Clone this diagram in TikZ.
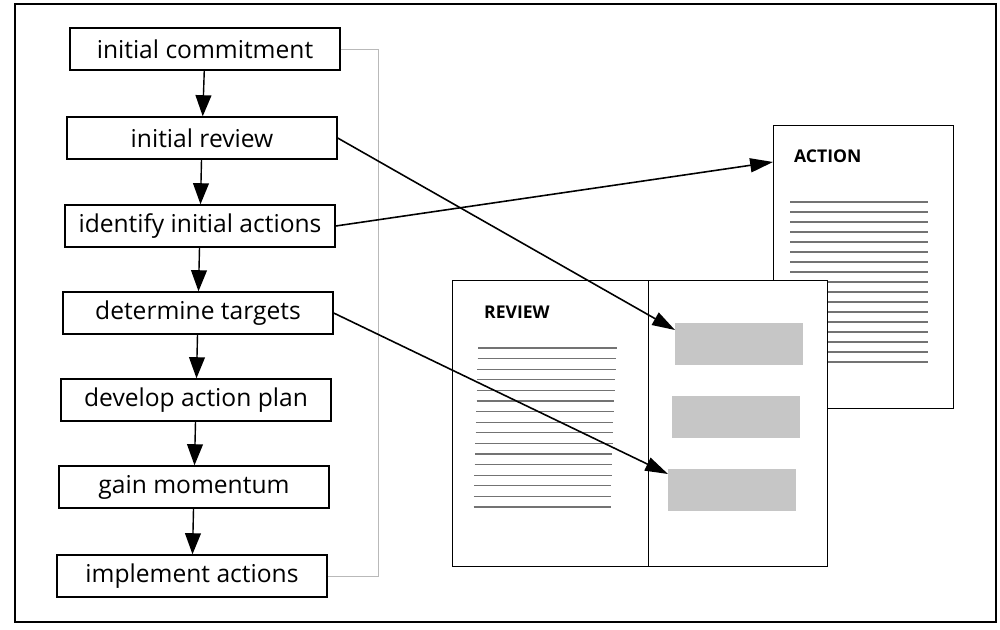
\documentclass[tikz,border=0pt]{standalone}
\usepackage{fontspec}
\usepackage{xcolor}
\setmainfont{Open Sans}
\usetikzlibrary{arrows.meta}

\begin{document}
\begin{tikzpicture}[x=0.02cm,y=-0.02cm,
  stepbox/.style={draw,thick,fill=white,minimum width=5.4cm,minimum height=0.84cm,inner sep=0pt,font=\fontsize{14}{16}\selectfont},
  flow/.style={-{Triangle[length=12pt,width=9pt]},thick},
  link/.style={-{Triangle[length=13pt,width=8pt]},line width=0.9pt},
  page/.style={draw,semithick,fill=white,anchor=north west,inner sep=0pt},
  shadebox/.style={fill=gray!45,anchor=north west,minimum width=2.56cm,minimum height=0.84cm,inner sep=0pt},
  textline/.style={black!55,line width=0.7pt}]
\useasboundingbox (0,0) rectangle (1000,629);
\draw[thick] (15,4) rectangle (996,622);

\node[stepbox] (commit) at (205,49)  {initial commitment};
\node[stepbox] (review) at (202,138) {initial review};
\node[stepbox] (ident)  at (200,226) {identify initial actions};
\node[stepbox] (target) at (198,313) {determine targets};
\node[stepbox] (plan)   at (196,400) {develop action plan};
\node[stepbox] (gain)   at (194,487) {gain momentum};
\node[stepbox] (impl)   at (192,576) {implement actions};

\draw[flow] (commit) -- (review);
\draw[flow] (review) -- (ident);
\draw[flow] (ident) -- (target);
\draw[flow] (target) -- (plan);
\draw[flow] (plan) -- (gain);
\draw[flow] (gain) -- (impl);

\draw[gray!55] (commit.east) -- ++(38,0) |- (impl.east);

\node[page,minimum width=3.6cm,minimum height=5.66cm] (action) at (773,125) {};
\node[font=\bfseries\fontsize{10}{12}\selectfont,anchor=west] at (788,156) {ACTION};
\foreach \y in {0,...,16}
  \draw[textline] (790,202+\y*10) -- (928,202+\y*10);

\node[page,minimum width=3.92cm,minimum height=5.72cm] (left) at (452,280) {};
\node[page,minimum width=3.58cm,minimum height=5.72cm] (right) at (648,280) {};
\node[font=\bfseries\fontsize{10}{12}\selectfont,anchor=west] at (478,312) {REVIEW};
\foreach \y/\e in {0/617,1/616,2/616,3/615,4/615,5/614,6/614,7/613,8/613,9/613,10/612,11/612,12/612,13/611,14/611,15/611}
  \draw[textline] (478-\y*0.3,348+\y*10.6) -- (\e,348+\y*10.6);

\node[shadebox] (hl1) at (675,323) {};
\node[shadebox] (hl2) at (672,396) {};
\node[shadebox] (hl3) at (668,469) {};

\draw[link] (review.east) -- ([yshift=-0.14cm]hl1.north west);
\draw[link] (ident.east) -- ([yshift=-0.74cm]action.north west);
\draw[link] (target.east) -- ([yshift=-0.1cm]hl3.north west);
\end{tikzpicture}
\end{document}
